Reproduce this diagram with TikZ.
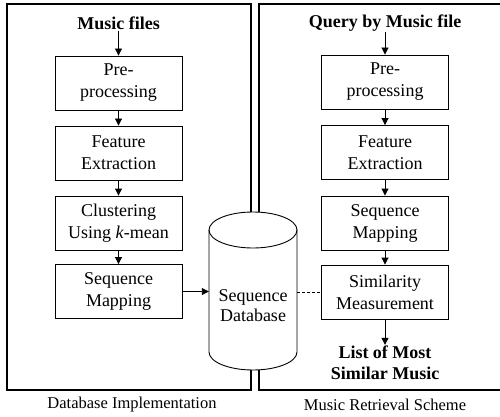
\documentclass[tikz,border=0pt]{standalone}
\usepackage{fontspec}
\setmainfont{Liberation Serif}
\usetikzlibrary{arrows.meta}
\begin{document}
\begin{tikzpicture}[x=1pt,y=-1pt,
  stepbox/.style={draw,line width=0.9pt,minimum width=127pt,minimum height=54pt,align=center,inner sep=0pt,font=\fontsize{18}{22}\selectfont},
  title/.style={align=center,inner sep=1pt,font=\fontsize{18}{21}\selectfont\bfseries},
  caption/.style={font=\fontsize{16.5}{20}\selectfont},
  panel/.style={draw,line width=1.1pt},
  arr/.style={-{Triangle[length=7pt,width=7pt]},line width=0.9pt}]
\useasboundingbox (0,0) rectangle (500,417);
% panels
\draw[panel] (7,4) rectangle (251,390);
\draw[panel] (259,4) rectangle (506,390);
% left column
\node[title] (mf) at (118.5,23) {Music files};
\node[stepbox] (pre1) at (118.5,83) {Pre-\\processing};
\node[stepbox] (fe1) at (118.5,153) {Feature\\Extraction};
\node[stepbox] (cl) at (118.5,223) {Clustering\\Using \textit{k}-mean};
\node[stepbox] (sm1) at (118.5,291.5) {Sequence\\Mapping};
% right column
\node[title] (q) at (385,23) {Query by Music file};
\node[stepbox] (pre2) at (385,82) {Pre-\\processing};
\node[stepbox] (fe2) at (385,152.5) {Feature\\Extraction};
\node[stepbox] (sm2) at (385,223) {Sequence\\Mapping};
\node[stepbox] (sim) at (385,292) {Similarity\\Measurement};
\node[title] (list) at (385,363) {List of Most\\Similar Music};
% cylinder
\draw[line width=0.9pt,fill=white] (209,230) -- (209,352)
  arc[start angle=180,end angle=360,x radius=44pt,y radius=18pt]
  -- (297,230)
  arc[start angle=0,end angle=180,x radius=44pt,y radius=18pt] -- cycle;
\draw[line width=0.9pt] (209,230) arc[start angle=180,end angle=360,x radius=44pt,y radius=18pt];
\node[minimum width=88pt,minimum height=40pt,align=center,inner sep=0pt,font=\fontsize{18}{20}\selectfont] (db) at (253,306) {Sequence\\Database};
% captions
\node[caption] (c1) at (132,405) {Database Implementation};
\node[caption] (c2) at (385,405) {Music Retrieval Scheme};
% connectors
\draw[arr] (mf) -- (pre1);
\draw[arr] (pre1) -- (fe1);
\draw[arr] (fe1) -- (cl);
\draw[arr] (cl) -- (sm1);
\draw[arr] (q) -- (pre2);
\draw[arr] (pre2) -- (fe2);
\draw[arr] (fe2) -- (sm2);
\draw[arr] (sm2) -- (sim);
\draw[arr] (sim) -- (list);
\draw[arr] (sm1.east) -- (sm1.east -| db.west);
\draw[dashed,line width=0.8pt,dash pattern=on 3pt off 2pt] (sim.west -| db.east) -- (sim.west);
\end{tikzpicture}
\end{document}
